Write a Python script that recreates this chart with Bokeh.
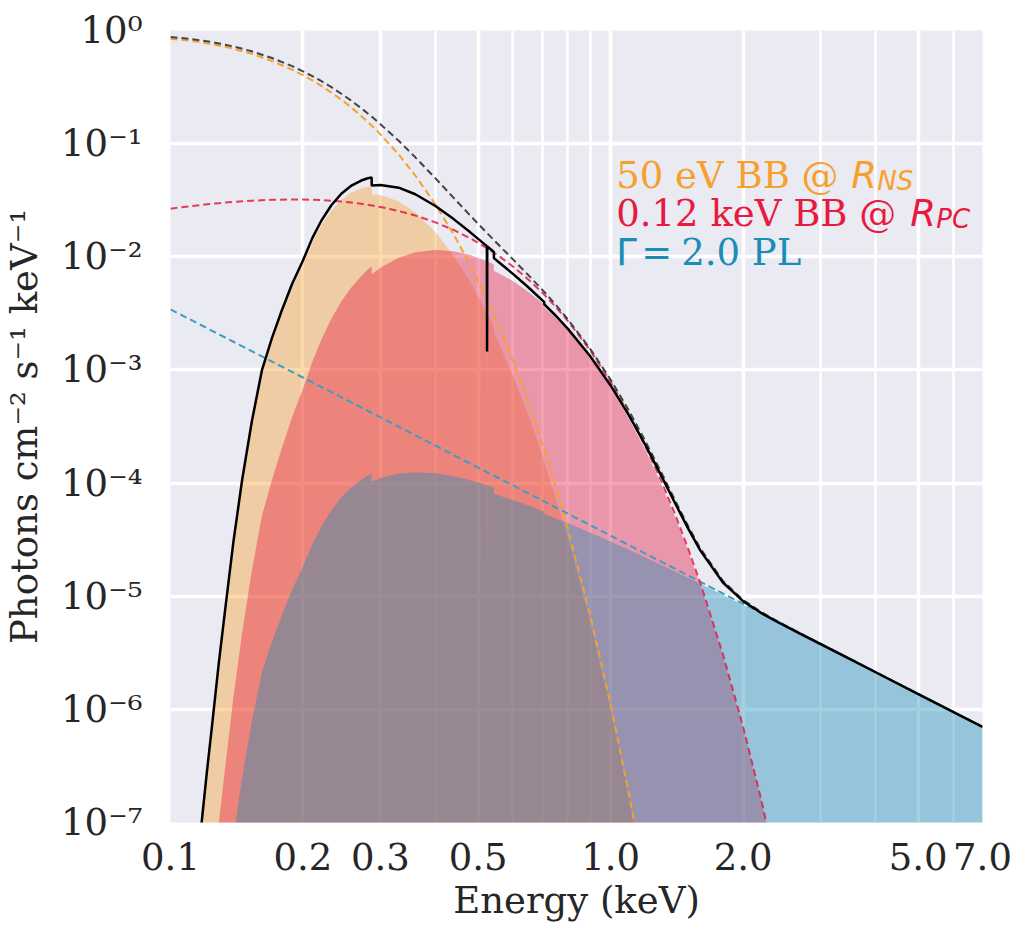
import numpy as np
from bokeh.plotting import figure
from bokeh.models import Range1d, FixedTicker, CustomJSTickFormatter, Label
from bokeh.embed import file_html
from bokeh.resources import INLINE

# ---------------- data (log10 of photons cm^-2 s^-1 keV^-1) ----------------
# energy grid for the absorbed (filled) spectra and the total absorbed model (keV)
energy_abs = [0.112, 0.1177, 0.121, 0.1244, 0.1288, 0.1333, 0.139, 0.1454, 0.153, 0.1613,
              0.17, 0.179, 0.189, 0.2, 0.21, 0.2203, 0.232, 0.2444, 0.257, 0.2713,
              0.2795, 0.2864, 0.2866, 0.3, 0.33, 0.36, 0.4, 0.44, 0.48, 0.5235,
              0.524, 0.5245, 0.535, 0.5429, 0.5431, 0.56, 0.6, 0.65, 0.7069, 0.7071,
              0.75, 0.8, 0.9, 1.0, 1.1, 1.2, 1.3, 1.4, 1.5, 1.6,
              1.8, 2.0, 2.2, 2.4, 2.7, 3.0, 3.5, 4.0, 5.0, 6.0, 7.0]

bb50_abs_log = [-7.907, -7.016, -6.568, -6.146, -5.602, -5.117, -4.538, -3.998, -3.480, -3.029,
                -2.745, -2.503, -2.269, -2.067, -1.873, -1.721, -1.591, -1.495, -1.433, -1.394,
                -1.382, -1.377, -1.449, -1.455, -1.510, -1.608, -1.782, -1.990, -2.222, -2.494,
                -3.427, -2.501, -2.568, -2.620, -2.675, -2.785, -3.051, -3.395, -3.798, -3.820,
                -4.128, -4.494, -5.241, -6.005, -6.781, -7.567, -8.360]

bb120_abs_log = [-9.365, -8.452, -7.991, -7.557, -6.996, -6.493, -5.892, -5.327, -4.778, -4.292,
                 -3.972, -3.693, -3.416, -3.166, -2.928, -2.730, -2.548, -2.396, -2.276, -2.171,
                 -2.120, -2.083, -2.154, -2.097, -2.009, -1.961, -1.940, -1.951, -1.985, -2.040,
                 -2.971, -2.042, -2.056, -2.069, -2.123, -2.149, -2.215, -2.308, -2.425, -2.445,
                 -2.538, -2.652, -2.896, -3.156, -3.429, -3.711, -4.001, -4.297, -4.598, -4.905,
                 -5.528, -6.164, -6.808, -7.461, -8.452]

pl_abs_log = [-10.377, -9.518, -9.086, -8.680, -8.155, -7.687, -7.128, -6.607, -6.108, -5.673,
              -5.402, -5.170, -4.941, -4.739, -4.541, -4.382, -4.240, -4.125, -4.041, -3.971,
              -3.939, -3.916, -3.988, -3.956, -3.916, -3.904, -3.913, -3.940, -3.975, -4.020,
              -4.951, -4.021, -4.032, -4.040, -4.095, -4.111, -4.150, -4.199, -4.253, -4.274,
              -4.311, -4.355, -4.438, -4.516, -4.589, -4.658, -4.721, -4.782, -4.838, -4.891,
              -4.990, -5.078, -5.159, -5.233, -5.334, -5.424, -5.557, -5.672, -5.865, -6.023, -6.156]

total_abs_log = [-7.891, -6.999, -6.550, -6.128, -5.584, -5.098, -4.518, -3.977, -3.458, -3.005,
                 -2.719, -2.475, -2.238, -2.033, -1.835, -1.679, -1.545, -1.443, -1.374, -1.326,
                 -1.308, -1.298, -1.370, -1.365, -1.389, -1.447, -1.551, -1.667, -1.784, -1.906,
                 -2.837, -1.909, -1.936, -1.958, -2.012, -2.055, -2.151, -2.269, -2.401, -2.421,
                 -2.519, -2.637, -2.882, -3.137, -3.399, -3.664, -3.925, -4.174, -4.401, -4.597,
                 -4.879, -5.044, -5.149, -5.230, -5.333, -5.424, -5.557, -5.672, -5.865, -6.023, -6.156]

# energy grid for the unabsorbed (dashed) models (keV)
energy_unabs = [0.1, 0.106, 0.112, 0.121, 0.1288, 0.139, 0.153, 0.17, 0.189, 0.2,
                0.21, 0.2203, 0.232, 0.2444, 0.257, 0.2713, 0.2864, 0.3, 0.33, 0.36,
                0.4, 0.44, 0.48, 0.5235, 0.56, 0.6, 0.65, 0.7069, 0.75, 0.8,
                0.9, 1.0, 1.1, 1.2, 1.3, 1.4, 1.5, 1.6, 1.8, 2.0,
                2.2, 2.4, 2.7, 3.0, 3.5, 4.0, 5.0, 6.0, 7.0]

bb50_unabs_log = [-0.073, -0.082, -0.093, -0.1125, -0.132, -0.161, -0.206, -0.269, -0.346, -0.395,
                  -0.441, -0.490, -0.548, -0.611, -0.677, -0.755, -0.840, -0.918, -1.096, -1.282,
                  -1.538, -1.802, -2.074, -2.377, -2.635, -2.923, -3.288, -3.709, -4.032, -4.410,
                  -5.177, -5.954, -6.739, -7.532, -8.332]

bb120_unabs_log = [-1.575, -1.562, -1.551, -1.536, -1.526, -1.515, -1.504, -1.496, -1.493, -1.494,
                   -1.496, -1.499, -1.504, -1.512, -1.520, -1.532, -1.546, -1.560, -1.595, -1.635,
                   -1.696, -1.763, -1.837, -1.923, -1.999, -2.086, -2.200, -2.335, -2.441, -2.568,
                   -2.831, -3.105, -3.387, -3.677, -3.972, -4.273, -4.578, -4.886, -5.514, -6.152,
                   -6.800, -7.454, -8.446]

pl_unabs_log = [-2.465, -2.516, -2.563, -2.631, -2.685, -2.751, -2.834, -2.926, -3.018, -3.067,
                -3.109, -3.151, -3.196, -3.241, -3.285, -3.332, -3.379, -3.419, -3.502, -3.578,
                -3.669, -3.752, -3.827, -3.903, -3.961, -4.021, -4.091, -4.164, -4.215, -4.271,
                -4.373, -4.465, -4.548, -4.623, -4.693, -4.757, -4.817, -4.873, -4.976, -5.067,
                -5.150, -5.225, -5.328, -5.419, -5.553, -5.669, -5.863, -6.021, -6.155]

total_unabs_log = [-0.058, -0.066, -0.077, -0.095, -0.114, -0.141, -0.184, -0.243, -0.315, -0.361,
                   -0.403, -0.448, -0.501, -0.559, -0.618, -0.687, -0.761, -0.828, -0.975, -1.121,
                   -1.307, -1.479, -1.636, -1.789, -1.905, -2.023, -2.161, -2.311, -2.423, -2.554,
                   -2.817, -3.086, -3.358, -3.630, -3.896, -4.149, -4.380, -4.579, -4.865, -5.033,
                   -5.140, -5.223, -5.328, -5.419, -5.553, -5.669, -5.863, -6.021, -6.155]

# ticks
x_tick_values = [0.1, 0.2, 0.3, 0.5, 1.0, 2.0, 5.0, 7.0]
x_tick_labels = ["0.1", "0.2", "0.3", "0.5", "1.0", "2.0", "5.0", "7.0"]
x_minor_values = [0.4, 0.6, 0.7, 0.8, 0.9, 3.0, 4.0, 6.0]
y_tick_values = [1e-7, 1e-6, 1e-5, 1e-4, 1e-3, 1e-2, 1e-1, 1e0]
y_tick_labels = ["10\u207b\u2077", "10\u207b\u2076", "10\u207b\u2075", "10\u207b\u2074",
                 "10\u207b\u00b3", "10\u207b\u00b2", "10\u207b\u00b9", "10\u2070"]

# ---------------- styling ----------------
ORANGE = "#F7A02C"
RED = "#E81A40"
BLUE = "#1A8DB7"
BLUE_DASH = "#3C9EC4"
GRAY_DASH = "#444444"
TXT = "#262626"
SERIF = "DejaVu Serif"
FS = "37px"
FLOOR = 1e-12


def lin(v):
    return [10.0 ** x for x in v]


p = figure(width=1027, height=936, x_axis_type="log", y_axis_type="log",
           x_range=Range1d(0.1, 7.0), y_range=Range1d(1e-7, 1.0),
           output_backend="svg", toolbar_location=None,
           min_border_left=168, min_border_right=45, min_border_top=30, min_border_bottom=114)

p.background_fill_color = "#EAEAF2"
p.border_fill_color = "white"
p.outline_line_color = None

# axes
p.xaxis.ticker = FixedTicker(ticks=x_tick_values, minor_ticks=x_minor_values)
p.yaxis.ticker = FixedTicker(ticks=y_tick_values)
fmt_code = """
let best = 0;
for (let i = 0; i < vals.length; i++) {
  if (Math.abs(Math.log10(vals[i]) - Math.log10(tick)) < Math.abs(Math.log10(vals[best]) - Math.log10(tick))) best = i;
}
return labs[best];
"""
p.xaxis.formatter = CustomJSTickFormatter(args=dict(vals=x_tick_values, labs=x_tick_labels), code=fmt_code)
p.yaxis.formatter = CustomJSTickFormatter(args=dict(vals=y_tick_values, labs=y_tick_labels), code=fmt_code)

for ax in (p.xaxis[0], p.yaxis[0]):
    ax.axis_line_color = None
    ax.major_tick_line_color = None
    ax.minor_tick_line_color = None
    ax.major_label_text_font = SERIF
    ax.major_label_text_font_size = FS
    ax.major_label_text_color = TXT
    ax.axis_label_text_font = SERIF
    ax.axis_label_text_font_size = FS
    ax.axis_label_text_font_style = "normal"
    ax.axis_label_text_color = TXT

p.xaxis.axis_label = "Energy (keV)"
p.yaxis.axis_label = "Photons cm\u207b\u00b2 s\u207b\u00b9 keV\u207b\u00b9"
p.xaxis.major_label_standoff = 14
p.xaxis.axis_label_standoff = 6
p.yaxis.major_label_standoff = 22
p.yaxis.axis_label_standoff = 12

# grid
p.xgrid.grid_line_color = "white"
p.xgrid.grid_line_width = 3.5
p.xgrid.minor_grid_line_color = "white"
p.xgrid.minor_grid_line_width = 2.5
p.ygrid.grid_line_color = "white"
p.ygrid.grid_line_width = 3.5

# filled absorbed components
p.varea(x=energy_abs[:len(bb50_abs_log)], y1=FLOOR, y2=lin(bb50_abs_log), fill_color=ORANGE, fill_alpha=0.4)
p.varea(x=energy_abs[:len(bb120_abs_log)], y1=FLOOR, y2=lin(bb120_abs_log), fill_color=RED, fill_alpha=0.4)
p.varea(x=energy_abs, y1=FLOOR, y2=lin(pl_abs_log), fill_color=BLUE, fill_alpha=0.4)

# unabsorbed dashed models
p.line(energy_unabs, lin(pl_unabs_log), line_color=BLUE_DASH, line_width=2, line_dash="7 4")
p.line(energy_unabs[:len(bb120_unabs_log)], lin(bb120_unabs_log), line_color=RED, line_width=2, line_dash="7 4", line_alpha=0.85)
p.line(energy_unabs[:len(bb50_unabs_log)], lin(bb50_unabs_log), line_color=ORANGE, line_width=2, line_dash="7 4")
p.line(energy_unabs, lin(total_unabs_log), line_color=GRAY_DASH, line_width=2, line_dash="7 4")

# total absorbed model
p.line(energy_abs, lin(total_abs_log), line_color="black", line_width=2.5)

# legend-like annotations
LEG_X = 1.03
LEG_Y = [10 ** -1.2815, 10 ** -1.6174, 10 ** -1.9621]


def lab(y, text, color, font=SERIF, size=FS, style="normal", dx=0, dy=0):
    p.add_layout(Label(x=LEG_X, y=y, text=text, text_color=color, text_font=font,
                       text_font_size=size, text_font_style=style, text_baseline="alphabetic",
                       text_align="left", x_offset=dx, y_offset=dy))


lab(LEG_Y[0], "50 eV BB @ ", ORANGE)
lab(LEG_Y[0], "R", ORANGE, font="DejaVu Sans", style="italic", dx=235)
lab(LEG_Y[0], "NS", ORANGE, font="DejaVu Sans", style="italic", size="26px", dx=261, dy=-6)
lab(LEG_Y[1], "0.12 keV BB @ ", RED)
lab(LEG_Y[1], "R", RED, font="DejaVu Sans", style="italic", dx=294)
lab(LEG_Y[1], "PC", RED, font="DejaVu Sans", style="italic", size="26px", dx=320, dy=-6)
lab(LEG_Y[2], "\u0393", BLUE, font="DejaVu Sans")
lab(LEG_Y[2], "=", BLUE, font="DejaVu Sans", dx=25)
lab(LEG_Y[2], "2.0 PL", BLUE, dx=65)

open("out.html", "w").write(file_html(p, INLINE))
